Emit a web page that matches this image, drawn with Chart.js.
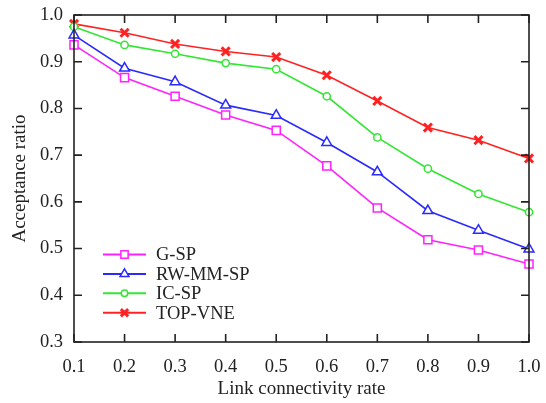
<!DOCTYPE html>
<html>
<head>
<meta charset="utf-8">
<script src="https://cdn.jsdelivr.net/npm/chart.js@4/dist/chart.umd.min.js"></script>
<style>
html,body{margin:0;padding:0;background:#fff;}
#wrap{width:546px;height:403px;position:relative;}
</style>
</head>
<body>
<div id="wrap"><canvas id="c" width="546" height="403"></canvas></div>
<script>
const linkRates = [0.1, 0.2, 0.3, 0.4, 0.5, 0.6, 0.7, 0.8, 0.9, 1.0];
const gSP     = [0.936, 0.866, 0.826, 0.786, 0.753, 0.677, 0.587, 0.519, 0.497, 0.467];
const rwMMSP  = [0.957, 0.886, 0.857, 0.807, 0.785, 0.727, 0.664, 0.581, 0.539, 0.499];
const icSP    = [0.975, 0.936, 0.917, 0.897, 0.884, 0.826, 0.738, 0.671, 0.617, 0.578];
const topVNE  = [0.981, 0.962, 0.938, 0.922, 0.910, 0.871, 0.816, 0.759, 0.732, 0.693];
const seriesNames = ['G-SP', 'RW-MM-SP', 'IC-SP', 'TOP-VNE'];
const xTicks = [0.1, 0.2, 0.3, 0.4, 0.5, 0.6, 0.7, 0.8, 0.9, 1.0];
const yTicks = [0.3, 0.4, 0.5, 0.6, 0.7, 0.8, 0.9, 1.0];

const FONT = '"Liberation Serif", "Times New Roman", serif';
const styles = [
  {color:'#ff22ff', point:'rect', radius:5.7, bw:1.5},
  {color:'#2a2aff', point:'triangle', radius:5.7, bw:1.5},
  {color:'#33e633', point:'circle', radius:3.6, bw:1.5},
  {color:'#ff2222', point:'crossRot', radius:5.7, bw:3}
];
const seriesData = [gSP, rwMMSP, icSP, topVNE];

const datasets = seriesData.map((vals, i) => ({
  label: seriesNames[i],
  data: vals.map((v, j) => ({x: linkRates[j], y: v})),
  borderColor: styles[i].color,
  backgroundColor: '#ffffff',
  borderWidth: 1.6,
  pointStyle: styles[i].point,
  pointRadius: styles[i].radius,
  pointBorderWidth: styles[i].bw,
  pointBackgroundColor: '#ffffff',
  pointBorderColor: styles[i].color,
  tension: 0,
  clip: false
}));

function zeroPad(s) { s.paddingTop = 0; s.paddingBottom = 0; s.paddingLeft = 0; s.paddingRight = 0; }

const frame = {
  id: 'frame',
  afterDraw(chart) {
    const {ctx, chartArea: a, scales} = chart;
    ctx.save();
    ctx.strokeStyle = '#222';
    ctx.lineWidth = 1.6;
    ctx.strokeRect(a.left, a.top, a.right - a.left, a.bottom - a.top);
    const L = 8;
    ctx.beginPath();
    xTicks.forEach(v => {
      const px = scales.x.getPixelForValue(v);
      ctx.moveTo(px, a.bottom); ctx.lineTo(px, a.bottom - L);
      ctx.moveTo(px, a.top); ctx.lineTo(px, a.top + L);
    });
    yTicks.forEach(v => {
      const py = scales.y.getPixelForValue(v);
      ctx.moveTo(a.left, py); ctx.lineTo(a.left + L, py);
      ctx.moveTo(a.right, py); ctx.lineTo(a.right - L, py);
    });
    ctx.stroke();
    // legend
    const x0 = a.left + 29, x1 = a.left + 72, xm = (x0 + x1) / 2;
    let y = a.top + 239.5;
    ctx.font = '18.5px ' + FONT;
    ctx.textBaseline = 'middle';
    ctx.textAlign = 'left';
    chart.data.datasets.forEach((ds, i) => {
      ctx.strokeStyle = ds.borderColor;
      ctx.lineWidth = 2;
      ctx.beginPath(); ctx.moveTo(x0, y); ctx.lineTo(x1, y); ctx.stroke();
      ctx.fillStyle = '#fff';
      ctx.lineWidth = styles[i].bw;
      Chart.helpers.drawPoint(ctx, {pointStyle: ds.pointStyle, radius: ds.pointRadius * 0.9, borderWidth: styles[i].bw, rotation: 0}, xm, y);
      ctx.fillStyle = '#222';
      ctx.fillText(ds.label, x1 + 10, y + 1);
      y += 19.4;
    });
    ctx.restore();
  }
};

new Chart(document.getElementById('c'), {
  type: 'line',
  data: {datasets},
  plugins: [frame],
  options: {
    responsive: false,
    animation: false,
    layout: {padding: {top: 15, right: 17, bottom: 0, left: 0}},
    plugins: {legend: {display: false}, tooltip: {enabled: false}},
    scales: {
      x: {
        type: 'linear', min: 0.1, max: 1.0,
        afterBuildTicks(s) { s.ticks = xTicks.map(v => ({value: v})); },
        afterFit(s) { s.height = 61; zeroPad(s); },
        grid: {display: false, drawTicks: false},
        border: {display: false},
        ticks: {color: '#222', padding: 14, font: {family: FONT, size: 18.5}, callback: v => v.toFixed(1), maxRotation: 0, autoSkip: false},
        title: {display: true, text: 'Link connectivity rate', color: '#222', font: {family: FONT, size: 19}, padding: {top: 0, bottom: 3}}
      },
      y: {
        type: 'linear', min: 0.3, max: 1.0,
        afterBuildTicks(s) { s.ticks = yTicks.map(v => ({value: v})); },
        afterFit(s) { s.width = 74; zeroPad(s); },
        grid: {display: false, drawTicks: false},
        border: {display: false},
        ticks: {color: '#222', padding: 11, font: {family: FONT, size: 18.5}, callback: v => v.toFixed(1)},
        title: {display: true, text: 'Acceptance ratio', color: '#222', font: {family: FONT, size: 19}, padding: {top: 9, bottom: 0}}
      }
    }
  }
});
</script>
</body>
</html>
